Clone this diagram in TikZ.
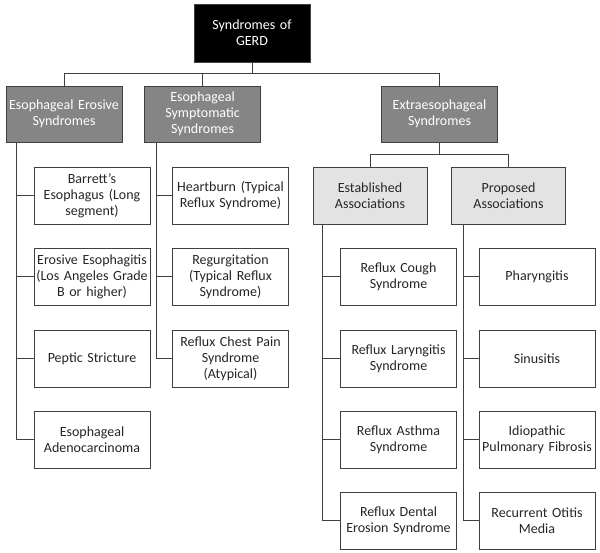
\documentclass[tikz,border=0pt]{standalone}
\usepackage{fontspec}
\setmainfont{Carlito}
\begin{document}
\begin{tikzpicture}[x=1pt,y=-1pt,
  every node/.style={font=\fontsize{14}{15.8}\selectfont, align=center, inner sep=0pt},
  box/.style={draw=black!75, line width=0.9pt, rectangle},
  rootbox/.style={box, fill=black, text=white, minimum width=116pt, minimum height=58pt, text width=114pt},
  midbox/.style={box, fill=black!48, text=white, minimum width=114pt, minimum height=56pt, text width=116pt},
  subbox/.style={box, fill=black!11, text=black!85, minimum width=114pt, minimum height=57pt, text width=112pt},
  leaf/.style={box, fill=white, text=black!85, minimum width=115pt, minimum height=57pt, text width=116pt},
  link/.style={draw=black!75, line width=1pt}]
\useasboundingbox (0,0) rectangle (600,553);
% root
\node[rootbox] (root) at (252,33) {Syndromes of\\GERD};
% level 1
\node[midbox] (ero) at (64,114) {Esophageal Erosive\\Syndromes};
\node[midbox] (sym) at (202.5,114) {Esophageal\\Symptomatic\\Syndromes};
\node[midbox] (ext) at (439.5,114) {Extraesophageal\\Syndromes};
% level 2
\node[subbox] (est) at (370,195.5) {Established\\Associations};
\node[subbox] (pro) at (508.5,195.5) {Proposed\\Associations};
% erosive leaves
\node[leaf] (e1) at (92,195.5) {Barrett’s\\Esophagus (Long\\segment)};
\node[leaf] (e2) at (92,277) {Erosive Esophagitis\\(Los Angeles Grade\\B or higher)};
\node[leaf] (e3) at (92,358.5) {Peptic Stricture};
\node[leaf] (e4) at (92,439.5) {Esophageal\\Adenocarcinoma};
% symptomatic leaves
\node[leaf] (s1) at (230.5,195.5) {Heartburn (Typical\\Reflux Syndrome)};
\node[leaf] (s2) at (230.5,277) {Regurgitation\\(Typical Reflux\\Syndrome)};
\node[leaf] (s3) at (230.5,358.5) {Reflux Chest Pain\\Syndrome\\(Atypical)};
% established leaves
\node[leaf] (a1) at (398.5,277) {Reflux Cough\\Syndrome};
\node[leaf] (a2) at (398.5,358.5) {Reflux Laryngitis\\Syndrome};
\node[leaf] (a3) at (398.5,439.5) {Reflux Asthma\\Syndrome};
\node[leaf] (a4) at (398.5,520.5) {Reflux Dental\\Erosion Syndrome};
% proposed leaves
\node[leaf] (p1) at (537,277) {Pharyngitis};
\node[leaf] (p2) at (537,358.5) {Sinusitis};
\node[leaf] (p3) at (537,439.5) {Idiopathic\\Pulmonary Fibrosis};
\node[leaf] (p4) at (537,520.5) {Recurrent Otitis\\Media};
% buses
\coordinate (bus) at (0,74);
\coordinate (bustwo) at (0,155);
\draw[link] (root.south) -- (root.south |- bus) -| (ero.north);
\draw[link] (root.south |- bus) -| (sym.north);
\draw[link] (root.south |- bus) -| (ext.north);
\draw[link] (ext.south) -- (ext.south |- bustwo) -| (est.north);
\draw[link] (ext.south |- bustwo) -| (pro.north);
% spines
\foreach \c in {e1,e2,e3,e4} \draw[link] ([xshift=11pt]ero.south west) |- (\c.west);
\foreach \c in {s1,s2,s3} \draw[link] ([xshift=12pt]sym.south west) |- (\c.west);
\foreach \c in {a1,a2,a3,a4} \draw[link] ([xshift=10pt]est.south west) |- (\c.west);
\foreach \c in {p1,p2,p3,p4} \draw[link] ([xshift=12pt]pro.south west) |- (\c.west);
\end{tikzpicture}
\end{document}
